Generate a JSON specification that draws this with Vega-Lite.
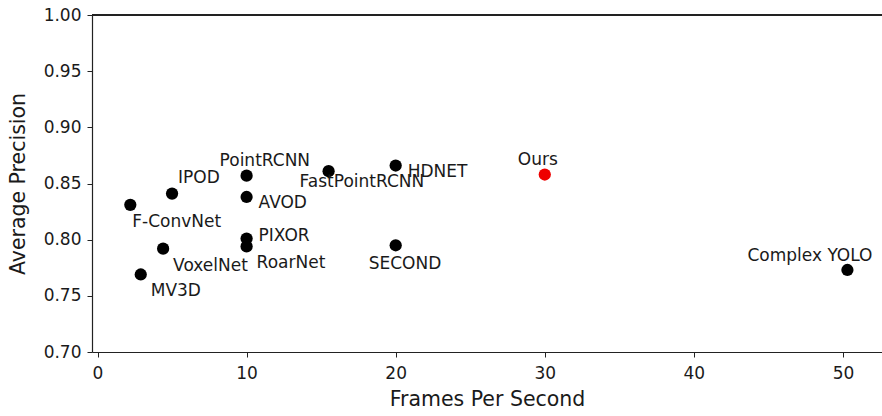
{
  "$schema": "https://vega.github.io/schema/vega-lite/v6.json",
  "width": 790,
  "height": 337,
  "autosize": {"type": "none"},
  "padding": {"top": 15, "left": 92, "right": 0, "bottom": 64},
  "background": "white",
  "config": {
    "view": {"stroke": null},
    "font": "DejaVu Sans",
    "axis": {
      "grid": false,
      "domainColor": "#222222",
      "domainWidth": 1.2,
      "tickColor": "#222222",
      "tickSize": 5,
      "tickWidth": 1,
      "labelColor": "#1a1a1a",
      "labelFont": "DejaVu Sans",
      "labelFontSize": 17,
      "titleColor": "#1a1a1a",
      "titleFont": "DejaVu Sans",
      "titleFontSize": 20.5,
      "titleFontWeight": "normal"
    },
    "text": {"font": "DejaVu Sans", "fontSize": 17, "color": "#1a1a1a", "baseline": "alphabetic", "align": "left"}
  },
  "data": {
    "values": [
      {"model": "F-ConvNet", "fps": 2.2, "ap": 0.831},
      {"model": "IPOD", "fps": 5.0, "ap": 0.841},
      {"model": "PointRCNN", "fps": 10.0, "ap": 0.857},
      {"model": "AVOD", "fps": 10.0, "ap": 0.838},
      {"model": "PIXOR", "fps": 10.0, "ap": 0.801},
      {"model": "RoarNet", "fps": 10.0, "ap": 0.794},
      {"model": "VoxelNet", "fps": 4.4, "ap": 0.792},
      {"model": "MV3D", "fps": 2.9, "ap": 0.769},
      {"model": "FastPointRCNN", "fps": 15.5, "ap": 0.861},
      {"model": "HDNET", "fps": 20.0, "ap": 0.866},
      {"model": "SECOND", "fps": 20.0, "ap": 0.795},
      {"model": "Ours", "fps": 30.0, "ap": 0.858},
      {"model": "Complex YOLO", "fps": 50.3, "ap": 0.773}
    ]
  },
  "encoding": {
    "x": {
      "field": "fps",
      "type": "quantitative",
      "scale": {"domain": [-0.37, 52.62], "nice": false, "zero": false},
      "axis": {"title": "Frames Per Second", "values": [0, 10, 20, 30, 40, 50], "labelPadding": 8, "titlePadding": 8}
    },
    "y": {
      "field": "ap",
      "type": "quantitative",
      "scale": {"domain": [0.7, 1.0], "nice": false, "zero": false},
      "axis": {"title": "Average Precision", "values": [0.7, 0.75, 0.8, 0.85, 0.9, 0.95, 1.0], "format": ".2f", "labelPadding": 6, "titlePadding": 15}
    }
  },
  "layer": [
    {
      "mark": {"type": "rule", "color": "#222222", "strokeWidth": 1.2},
      "encoding": {"x": null, "y": {"datum": 1.0}}
    },
    {
      "mark": {"type": "circle", "size": 150, "opacity": 1},
      "encoding": {
        "color": {
          "condition": {"test": "datum.model === 'Ours'", "value": "#ee0000"},
          "value": "#000000"
        }
      }
    },
    {
      "transform": [{"filter": {"field": "model", "oneOf": ["VoxelNet", "MV3D", "RoarNet"]}}],
      "mark": {"type": "text", "dx": 10, "dy": 22},
      "encoding": {"text": {"field": "model"}}
    },
    {
      "transform": [{"filter": {"field": "model", "equal": "F-ConvNet"}}],
      "mark": {"type": "text", "dx": 2, "dy": 22},
      "encoding": {"text": {"field": "model"}}
    },
    {
      "transform": [{"filter": {"field": "model", "equal": "SECOND"}}],
      "mark": {"type": "text", "dx": -27, "dy": 24},
      "encoding": {"text": {"field": "model"}}
    },
    {
      "transform": [{"filter": {"field": "model", "equal": "FastPointRCNN"}}],
      "mark": {"type": "text", "dx": -29, "dy": 16},
      "encoding": {"text": {"field": "model"}}
    },
    {
      "transform": [{"filter": {"field": "model", "oneOf": ["AVOD", "HDNET"]}}],
      "mark": {"type": "text", "dx": 12, "dy": 11},
      "encoding": {"text": {"field": "model"}}
    },
    {
      "transform": [{"filter": {"field": "model", "equal": "PIXOR"}}],
      "mark": {"type": "text", "dx": 12, "dy": 2},
      "encoding": {"text": {"field": "model"}}
    },
    {
      "transform": [{"filter": {"field": "model", "oneOf": ["PointRCNN", "Ours"]}}],
      "mark": {"type": "text", "dx": -27, "dy": -10},
      "encoding": {"text": {"field": "model"}}
    },
    {
      "transform": [{"filter": {"field": "model", "equal": "IPOD"}}],
      "mark": {"type": "text", "dx": 6, "dy": -11},
      "encoding": {"text": {"field": "model"}}
    },
    {
      "transform": [{"filter": {"field": "model", "equal": "Complex YOLO"}}],
      "mark": {"type": "text", "dx": -100, "dy": -9},
      "encoding": {"text": {"field": "model"}}
    }
  ]
}
